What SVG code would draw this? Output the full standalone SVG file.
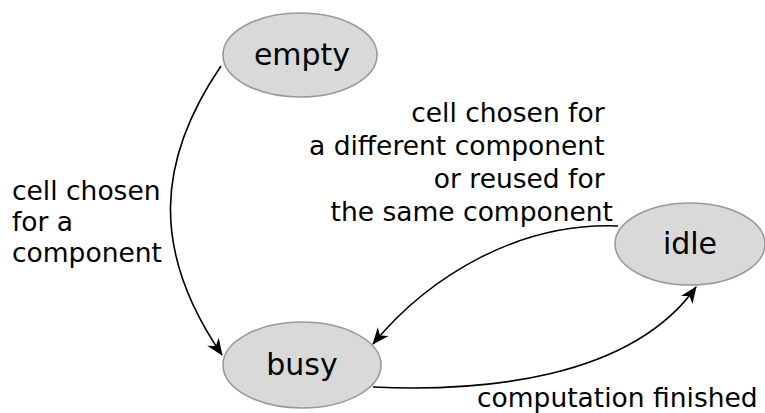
<svg xmlns="http://www.w3.org/2000/svg" width="765" height="413" viewBox="0 0 765 413">
  <style>
    .state ellipse { fill: #d9d9d9; stroke: #9a9a9a; stroke-width: 1.6; }
    .state text { font-family: "DejaVu Sans", sans-serif; font-size: 30px; fill: #000; text-anchor: middle; }
    .label { font-family: "DejaVu Sans", sans-serif; font-size: 26.5px; fill: #000; }
    .edge { fill: none; stroke: #000; stroke-width: 1.6; marker-end: url(#arrow); }
  </style>
  <defs>
    <marker id="arrow" markerUnits="userSpaceOnUse" viewBox="-17 -8 19 16" refX="0" refY="0" markerWidth="19" markerHeight="16" orient="auto">
      <path d="M 1,0 L -16,-7 L -11,0 L -16,7 Z" fill="#000"/>
    </marker>
  </defs>

  <g id="connectors">
    <path class="edge" d="M 221,66 C 157,160 150,250 222,355"/>
    <path class="edge" d="M 618,226 C 520,222 430,275 373,344"/>
    <path class="edge" d="M 373,387 C 480,392 630,380 696,287"/>
  </g>

  <g id="node-empty" class="state">
    <ellipse cx="300" cy="55" rx="77" ry="42"/>
    <text x="302" y="65">empty</text>
  </g>
  <g id="node-idle" class="state">
    <ellipse cx="690" cy="244" rx="75" ry="41"/>
    <text x="690" y="254">idle</text>
  </g>
  <g id="node-busy" class="state">
    <ellipse cx="302" cy="365" rx="79" ry="43"/>
    <text x="302" y="375">busy</text>
  </g>

  <g id="edge-labels">
    <text class="label" x="12">
      <tspan x="12" y="200">cell chosen</tspan>
      <tspan x="12" y="231">for a</tspan>
      <tspan x="12" y="262">component</tspan>
    </text>
    <text class="label" text-anchor="end">
      <tspan x="613" y="122">cell chosen for</tspan>
      <tspan x="613" y="155">a different component</tspan>
      <tspan x="613" y="188">or reused for</tspan>
      <tspan x="613" y="221">the same component</tspan>
    </text>
    <text class="label" x="477" y="407">computation finished</text>
  </g>
</svg>
